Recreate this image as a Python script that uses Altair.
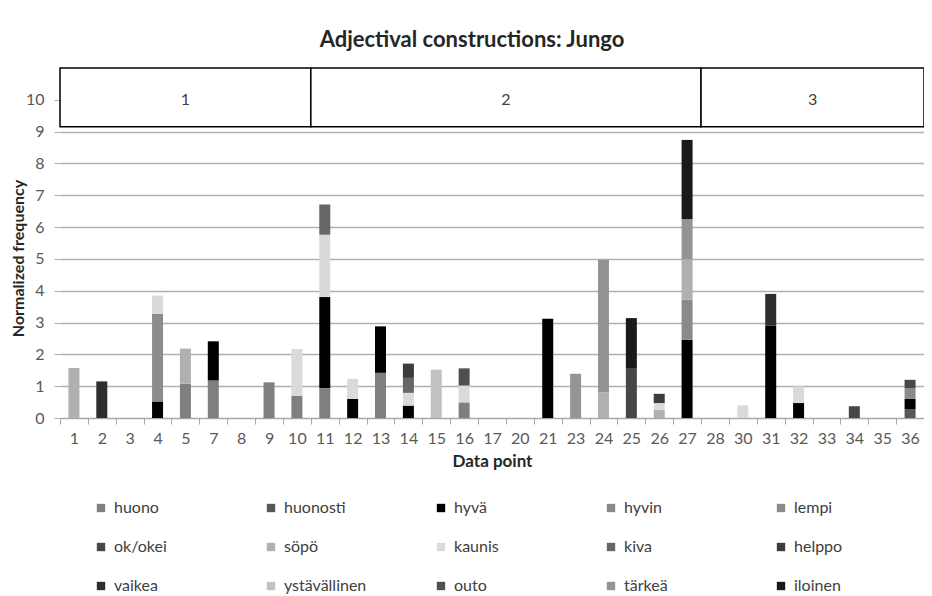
import altair as alt
import pandas as pd

categories = [1, 2, 3, 4, 5, 7, 8, 9, 10, 11, 12, 13, 14, 15, 16, 17, 20, 21, 23, 24,
              25, 26, 27, 28, 30, 31, 32, 33, 34, 35, 36]

series_names = ["huono", "huonosti", "hyvä", "hyvin", "lempi", "ok/okei", "söpö", "kaunis",
                "kiva", "helppo", "vaikea", "ystävällinen", "outo", "tärkeä", "iloinen"]
series_colors = ["#7f7f7f", "#575757", "#000000", "#8a8a8a", "#8c8c8c", "#474747", "#b0b0b0",
                 "#dadada", "#676767", "#3c3c3c", "#2e2e2e", "#c2c2c2", "#505050", "#949494",
                 "#1a1a1a"]

#            idx 0-9                                   | 10-19                                   | 20-29                                  | 30
huono =        [0, 0, 0, 0, 1.08, 1.18, 0, 1.12, 0.70, 0.94, 0, 1.42, 0, 0, 0.49, 0, 0, 0, 0, 0,       0, 0, 0, 0, 0, 0, 0, 0, 0, 0,          0]
huonosti =     [0, 0, 0, 0, 0, 0, 0, 0, 0, 0,                0, 0, 0, 0, 0, 0, 0, 0, 0, 0,             0, 0, 0, 0, 0, 0, 0, 0, 0, 0,          0.28]
hyva =         [0, 0, 0, 0.52, 0, 1.23, 0, 0, 0, 2.86,       0.60, 1.46, 0.39, 0, 0, 0, 0, 3.12, 0, 0, 0, 0, 2.46, 0, 0, 2.90, 0.47, 0, 0, 0, 0.32]
hyvin =        [0, 0, 0, 0, 0, 0, 0, 0, 0, 0,                0, 0, 0, 0, 0, 0, 0, 0, 0, 0,             0, 0, 1.26, 0, 0, 0, 0, 0, 0, 0,       0.34]
lempi =        [0, 0, 0, 2.76, 0, 0, 0, 0, 0, 0,             0, 0, 0, 0, 0, 0, 0, 0, 0, 0,             0, 0, 0, 0, 0, 0, 0, 0, 0, 0,          0]
ok_okei =      [0, 0, 0, 0, 0, 0, 0, 0, 0, 0,                0, 0, 0, 0, 0, 0, 0, 0, 0, 0,             1.57, 0, 0, 0, 0, 0, 0, 0, 0.37, 0,    0.26]
sopo =         [1.57, 0, 0, 0, 1.10, 0, 0, 0, 0, 0,          0, 0, 0, 0, 0, 0, 0, 0, 0, 0.80,          0, 0.26, 1.27, 0, 0, 0, 0, 0, 0, 0,    0]
kaunis =       [0, 0, 0, 0.57, 0, 0, 0, 0, 1.47, 1.96,       0.63, 0, 0.40, 0, 0.53, 0, 0, 0, 0, 0,    0, 0.21, 0, 0, 0.40, 0, 0.52, 0, 0, 0, 0]
kiva =         [0, 0, 0, 0, 0, 0, 0, 0, 0, 0.95,             0, 0, 0.47, 0, 0, 0, 0, 0, 0, 0,          0, 0, 0, 0, 0, 0, 0, 0, 0, 0,          0]
helppo =       [0, 0, 0, 0, 0, 0, 0, 0, 0, 0,                0, 0, 0.45, 0, 0, 0, 0, 0, 0, 0,          0, 0.29, 0, 0, 0, 0, 0, 0, 0, 0,       0]
vaikea =       [0, 1.15, 0, 0, 0, 0, 0, 0, 0, 0,             0, 0, 0, 0, 0, 0, 0, 0, 0, 0,             0, 0, 0, 0, 0, 1.00, 0, 0, 0, 0,       0]
ystavallinen = [0, 0, 0, 0, 0, 0, 0, 0, 0, 0,                0, 0, 0, 1.52, 0, 0, 0, 0, 0, 0,          0, 0, 0, 0, 0, 0, 0, 0, 0, 0,          0]
outo =         [0, 0, 0, 0, 0, 0, 0, 0, 0, 0,                0, 0, 0, 0, 0.54, 0, 0, 0, 0, 0,          0, 0, 0, 0, 0, 0, 0, 0, 0, 0,          0]
tarkea =       [0, 0, 0, 0, 0, 0, 0, 0, 0, 0,                0, 0, 0, 0, 0, 0, 0, 0, 1.39, 4.17,       0, 0, 1.26, 0, 0, 0, 0, 0, 0, 0,       0]
iloinen =      [0, 0, 0, 0, 0, 0, 0, 0, 0, 0,                0, 0, 0, 0, 0, 0, 0, 0, 0, 0,             1.57, 0, 2.49, 0, 0, 0, 0, 0, 0, 0,    0]

series_values = [huono, huonosti, hyva, hyvin, lempi, ok_okei, sopo, kaunis, kiva, helppo,
                 vaikea, ystavallinen, outo, tarkea, iloinen]

y_ticks = [0, 1, 2, 3, 4, 5, 6, 7, 8, 9, 10]
y_domain = [0, 11]

# sections shown in the box above the plot
section_labels = ["1", "2", "3"]
section_first = [1, 11, 28]
section_last = [10, 27, 36]
box_bottom = 9.15
box_label_y = 10

rows = []
for si, (name, vals) in enumerate(zip(series_names, series_values)):
    assert len(vals) == len(categories)
    for c, v in zip(categories, vals):
        if v > 0:
            rows.append({"cat": c, "series": name, "value": v, "order": si})
df = pd.DataFrame(rows)

box = pd.DataFrame({
    "label": section_labels,
    "start": [categories.index(a) for a in section_first],
    "end": [categories.index(b) + 1 for b in section_last],
})
box["mid"] = (box["start"] + box["end"]) / 2

FONT = "Lato"

bars = alt.Chart(df).mark_bar(size=11).encode(
    x=alt.X("cat:O", sort=categories,
            scale=alt.Scale(domain=categories, paddingInner=0, paddingOuter=0),
            axis=alt.Axis(title="Data point", labelAngle=0, tickBand="extent", grid=False,
                          labelOverlap=False,
                          domainColor="#a6a6a6", tickColor="#a6a6a6", tickSize=6,
                          labelFont=FONT, labelFontSize=16, labelColor="#595959", labelPadding=6,
                          titleFont=FONT, titleFontSize=17, titleFontWeight="bold",
                          titleColor="#262626", titlePadding=7)),
    y=alt.Y("value:Q", stack="zero",
            scale=alt.Scale(domain=y_domain, nice=False),
            axis=alt.Axis(title="Normalized frequency", values=y_ticks, grid=True,
                          labelOverlap=False,
                          gridColor="#b0b0b0", gridWidth=1.3, domain=False,
                          tickColor="#b0b0b0", tickSize=6, labelPadding=10,
                          labelFont=FONT, labelFontSize=16, labelColor="#595959",
                          titleFont=FONT, titleFontSize=16, titleFontWeight="bold",
                          titleColor="#262626", titleX=-34, titleY=190, titleBaseline="bottom")),
    color=alt.Color("series:N",
                    scale=alt.Scale(domain=series_names, range=series_colors),
                    legend=alt.Legend(title=None, orient="none", legendX=33, legendY=432,
                                      direction="horizontal", columns=5, symbolType="square",
                                      symbolSize=70, symbolStrokeWidth=0, gridAlign="all",
                                      columnPadding=66, rowPadding=23, labelFont=FONT,
                                      labelFontSize=16, labelColor="#404040", labelLimit=300,
                                      labelOffset=5)),
    order=alt.Order("order:Q"),
)

box_x_scale = alt.Scale(domain=[0, len(categories)], nice=False, zero=False)
box_y_scale = alt.Scale(domain=y_domain, nice=False)

box_rect = alt.Chart(box).mark_rect(fill="white", stroke="black", strokeWidth=1.5).encode(
    x=alt.X("start:Q", scale=box_x_scale, axis=None),
    x2="end:Q",
    y=alt.YDatum(box_bottom, scale=box_y_scale, axis=None),
    y2=alt.datum(y_domain[1]),
)

box_text = alt.Chart(box).mark_text(font=FONT, fontSize=16, color="#404040").encode(
    x=alt.X("mid:Q", scale=box_x_scale, axis=None),
    y=alt.YDatum(box_label_y, scale=box_y_scale, axis=None),
    text="label:N",
)

chart = alt.layer(bars, box_rect, box_text).resolve_scale(
    x="independent", y="independent"
).properties(
    width=864, height=350,
    padding={"left": 52, "top": 60, "right": 0, "bottom": 176},
    autosize="none",
    title=alt.TitleParams("Adjectival constructions: Jungo", font=FONT, fontSize=22,
                          fontWeight="bold", color="#262626", anchor="middle",
                          offset=15, dx=-20),
).configure_view(stroke=None)

chart.save("out.html", embed_options={"renderer": "svg", "actions": False})
